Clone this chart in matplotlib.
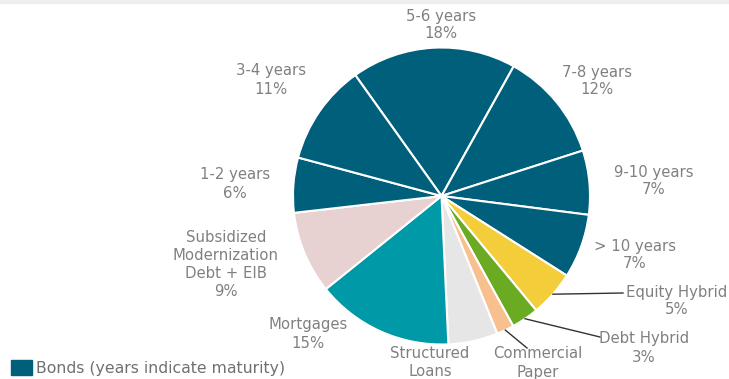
import matplotlib as mpl
mpl.use('Agg')
import matplotlib.pyplot as plt
from matplotlib.patches import Patch, Rectangle
import numpy as np

# funding mix, clockwise from the top
names = ['5-6 years', '7-8 years', '9-10 years', '> 10 years', 'Equity Hybrid',
         'Debt Hybrid', 'Commercial\nPaper', 'Structured\nLoans', 'Mortgages',
         'Subsidized\nModernization\nDebt + EIB', '1-2 years', '3-4 years']
shares = [18, 12, 7, 7, 5, 3, 1.9, 5.4, 15, 9, 6, 11]
pct_text = ['18%', '12%', '7%', '7%', '5%', '3%', '', '', '15%', '9%', '6%', '11%']

bond = '#005F7A'
colors = [bond, bond, bond, bond, '#F4CD3A', '#6AAB23', '#F8BF8F', '#E6E6E6',
          '#0099A7', '#E8D1D1', bond, bond]

# label centres in pixels from the top-left (first line), and leader flags
label_xy = [(441, 16), (597, 72), (654, 172), (635, 246), (677, 292),
            (644, 339), (538, 354), (430, 354), (308, 325), (226, 237),
            (235, 175), (271, 71)]
leader = [False, False, False, False, True, True, True, False, False, False, False, False]
leader_end = {4: (623, 293), 5: (600, 337), 6: (527, 348)}

W, H = 729, 379
fig = plt.figure(figsize=(W / 100, H / 100), dpi=100)
ax = fig.add_axes([0, 0, 1, 1])

# thin grey strip along the top edge
fig.patches.append(Rectangle((0, 1 - 3 / H), 1, 3 / H, transform=fig.transFigure,
                             color='#EEEEEE', zorder=0))

cx, cy, r = 441.5, H - 196, 148.5
wedges, _ = ax.pie(shares, colors=colors, startangle=125.5, counterclock=False,
                   center=(cx, cy), radius=r, frame=True,
                   wedgeprops=dict(edgecolor='white', linewidth=1.5))
ax.set_xlim(0, W)
ax.set_ylim(0, H)
ax.set_aspect('equal')
ax.axis('off')

gray = '#808080'
for i, w in enumerate(wedges):
    x, y = label_xy[i]
    lines = names[i].split('\n') + ([pct_text[i]] if pct_text[i] else [])
    for k, line in enumerate(lines):
        ax.text(x, H - (y + 18 * k), line, ha='center', va='center', color=gray,
                fontsize=10.7)
    if leader[i]:
        mid = np.deg2rad((w.theta1 + w.theta2) / 2)
        sx, sy = cx + r * np.cos(mid), cy + r * np.sin(mid)
        ex, ey = leader_end[i]
        ax.plot([sx, ex], [sy, H - ey], color='#333333', linewidth=1)

leg = ax.legend(handles=[Patch(color=bond)], labels=['Bonds (years indicate maturity)'],
                loc='lower left', bbox_to_anchor=(0.0, -0.021), frameon=False,
                fontsize=11.3, handlelength=1.35, handleheight=1.1, handletextpad=0.25,
                borderaxespad=0.3)
for t in leg.get_texts():
    t.set_color('#707070')

fig.savefig('out.png', dpi=100)
